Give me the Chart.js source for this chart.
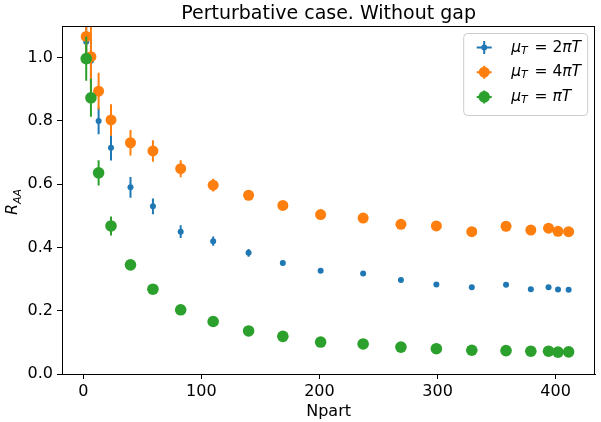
<!DOCTYPE html>
<html>
<head>
<meta charset="utf-8">
<script src="https://cdn.jsdelivr.net/npm/chart.js@4.4.1/dist/chart.umd.min.js"></script>
<style>
  html, body { margin: 0; padding: 0; background: #fff; }
  #wrap { width: 601px; height: 422px; }
</style>
</head>
<body>
<div id="wrap"><canvas id="raa"></canvas></div>
<script>
// ---- data ----
const npart = [2.5, 6.5, 13, 23.5, 40, 59, 82.5, 110, 140, 169, 201, 237, 269, 299, 329, 358, 379, 394, 402, 411];

const raa2pi = [1.05, 0.99, 0.80, 0.715, 0.59, 0.53, 0.45, 0.42, 0.383, 0.351, 0.326, 0.318, 0.297, 0.283, 0.274, 0.282, 0.268, 0.274, 0.267, 0.266];
const err2pi = [0.06, 0.07, 0.042, 0.04, 0.033, 0.025, 0.02, 0.015, 0.012, 0.008, 0.006, 0.005, 0.005, 0.004, 0.004, 0.004, 0.003, 0.003, 0.003, 0.003];

const raa4pi = [1.067, 1.003, 0.894, 0.803, 0.731, 0.705, 0.649, 0.597, 0.565, 0.533, 0.504, 0.493, 0.473, 0.468, 0.450, 0.467, 0.455, 0.461, 0.451, 0.450];
const err4pi = [0.06, 0.12, 0.058, 0.05, 0.04, 0.034, 0.027, 0.02, 0.015, 0.01, 0.008, 0.007, 0.006, 0.005, 0.005, 0.005, 0.004, 0.004, 0.004, 0.004];

const raaPi = [0.997, 0.873, 0.636, 0.468, 0.345, 0.268, 0.203, 0.166, 0.136, 0.119, 0.101, 0.095, 0.085, 0.080, 0.075, 0.074, 0.072, 0.072, 0.069, 0.070];
const errPi = [0.07, 0.06, 0.04, 0.03, 0.015, 0.01, 0.008, 0.006, 0.005, 0.004, 0.004, 0.003, 0.003, 0.003, 0.003, 0.003, 0.003, 0.003, 0.003, 0.003];

const xTicks = [0, 100, 200, 300, 400];
const yTicks = [0.0, 0.2, 0.4, 0.6, 0.8, 1.0];

const FONT = "'DejaVu Sans', sans-serif";
const C_BLUE = "#1f77b4", C_ORANGE = "#ff7f0e", C_GREEN = "#2ca02c";

function pts(ys) { return npart.map((x, i) => ({ x: x, y: ys[i] })); }

const series = [
  { name: ["2", "\u03c0T"], data: raa2pi, err: err2pi, color: C_BLUE, r: 3, order: 3 },
  { name: ["4", "\u03c0T"], data: raa4pi, err: err4pi, color: C_ORANGE, r: 5.5, order: 2 },
  { name: ["", "\u03c0T"], data: raaPi, err: errPi, color: C_GREEN, r: 5.8, order: 1 }
];

// error bars drawn just before each dataset's markers, through the scales
const errorBars = {
  id: "errorBars",
  beforeDatasetDraw(chart, args) {
    const s = series[args.index];
    const xs = chart.scales.x, ys = chart.scales.y;
    const ctx = chart.ctx;
    ctx.save();
    ctx.beginPath();
    ctx.rect(chart.chartArea.left, chart.chartArea.top,
             chart.chartArea.right - chart.chartArea.left,
             chart.chartArea.bottom - chart.chartArea.top);
    ctx.clip();
    ctx.strokeStyle = s.color;
    ctx.lineWidth = 2;
    s.data.forEach((v, i) => {
      const px = xs.getPixelForValue(npart[i]);
      ctx.beginPath();
      ctx.moveTo(px, ys.getPixelForValue(v - s.err[i]));
      ctx.lineTo(px, ys.getPixelForValue(v + s.err[i]));
      ctx.stroke();
    });
    ctx.restore();
  }
};

function mathLabel(ctx, x, y, size, pre, rest) {
  // mu_T = <pre>piT  (mathtext-like)
  let cx = x;
  ctx.font = "italic " + size + "px " + FONT;
  ctx.fillText("\u03bc", cx, y);
  cx += ctx.measureText("\u03bc").width;
  ctx.font = "italic " + (size * 0.7) + "px " + FONT;
  ctx.fillText("T", cx, y + size * 0.22);
  cx += ctx.measureText("T").width + size * 0.12;
  ctx.font = size + "px " + FONT;
  const eq = " = " + pre;
  ctx.fillText(eq, cx, y);
  cx += ctx.measureText(eq).width;
  ctx.font = "italic " + size + "px " + FONT;
  ctx.fillText(rest, cx, y);
}

const decor = {
  id: "decor",
  afterDraw(chart) {
    const ctx = chart.ctx;
    const a = chart.chartArea;
    ctx.save();
    // frame
    ctx.strokeStyle = "#000";
    ctx.lineWidth = 1;
    ctx.strokeRect(Math.round(a.left) + 0.5, Math.round(a.top) + 0.5,
                   Math.round(a.right - a.left) - 1, Math.round(a.bottom - a.top));
    // title
    ctx.fillStyle = "#000";
    ctx.textAlign = "center";
    ctx.textBaseline = "alphabetic";
    ctx.font = "19px " + FONT;
    ctx.fillText("Perturbative case. Without gap", (a.left + a.right) / 2, 19);
    // y label R_AA
    ctx.save();
    ctx.translate(17, 202);
    ctx.rotate(-Math.PI / 2);
    ctx.textAlign = "left";
    ctx.font = "italic 16px " + FONT;
    const wR = ctx.measureText("R").width;
    ctx.font = "italic 11px " + FONT;
    const wA = ctx.measureText("AA").width;
    const x0 = -(wR + wA) / 2;
    ctx.font = "italic 16px " + FONT;
    ctx.fillText("R", x0, 0);
    ctx.font = "italic 11px " + FONT;
    ctx.fillText("AA", x0 + wR, 3.5);
    ctx.restore();
    // legend
    const bw = 124, bh = 82;
    const bx = a.right - 8 - bw, by = a.top + 7;
    ctx.beginPath();
    ctx.roundRect(bx + 0.5, by + 0.5, bw, bh, 4);
    ctx.fillStyle = "rgba(255,255,255,0.8)";
    ctx.fill();
    ctx.strokeStyle = "#cccccc";
    ctx.lineWidth = 1;
    ctx.stroke();
    ctx.textAlign = "left";
    ctx.textBaseline = "middle";
    series.forEach((s, i) => {
      const cy = by + 14.5 + i * 24.7;
      const mx = bx + 21;
      ctx.strokeStyle = s.color;
      ctx.lineWidth = 2;
      ctx.beginPath();
      ctx.moveTo(mx - 7.5, cy); ctx.lineTo(mx + 7.5, cy);
      ctx.moveTo(mx, cy - 6.5); ctx.lineTo(mx, cy + 6.5);
      ctx.stroke();
      ctx.fillStyle = s.color;
      ctx.beginPath();
      ctx.arc(mx, cy, s.r, 0, Math.PI * 2);
      ctx.fill();
      ctx.fillStyle = "#000";
      mathLabel(ctx, bx + 48, cy, 15.5, s.name[0], s.name[1]);
    });
    ctx.restore();
  }
};

new Chart(document.getElementById("raa"), {
  type: "scatter",
  data: {
    datasets: series.map(s => ({
      label: s.name.join(""),
      data: pts(s.data),
      order: s.order,
      pointRadius: s.r,
      pointHoverRadius: s.r,
      pointBorderWidth: 0,
      backgroundColor: s.color,
      borderColor: s.color,
      showLine: false
    }))
  },
  options: {
    responsive: true,
    maintainAspectRatio: false,
    animation: false,
    events: [],
    layout: { padding: { top: 26, right: 0, left: 0, bottom: 0 } },
    plugins: {
      legend: { display: false },
      title: { display: false },
      tooltip: { enabled: false }
    },
    scales: {
      x: {
        type: "linear",
        min: -18,
        max: 433.5,
        afterFit: s => { s.height = 48; },
        afterBuildTicks: s => { s.ticks = xTicks.map(v => ({ value: v })); },
        grid: { display: true, drawOnChartArea: false, drawTicks: true, tickLength: 5, color: "#000", lineWidth: 1 },
        border: { display: true, color: "#000", width: 1 },
        ticks: { color: "#000", padding: 3, maxRotation: 0, font: { family: FONT, size: 16 }, callback: v => String(v) },
        title: { display: true, text: "Npart", color: "#000", font: { family: FONT, size: 16 }, padding: { top: 0, bottom: 1 } }
      },
      y: {
        type: "linear",
        min: 0,
        max: 1.1,
        afterFit: s => { s.width = 62; },
        afterBuildTicks: s => { s.ticks = yTicks.map(v => ({ value: v })); },
        grid: { display: true, drawOnChartArea: false, drawTicks: true, tickLength: 5, color: "#000", lineWidth: 1 },
        border: { display: true, color: "#000", width: 1 },
        ticks: { color: "#000", padding: 4, font: { family: FONT, size: 16 }, callback: v => Number(v).toFixed(1) }
      }
    }
  },
  plugins: [errorBars, decor]
});
</script>
</body>
</html>
